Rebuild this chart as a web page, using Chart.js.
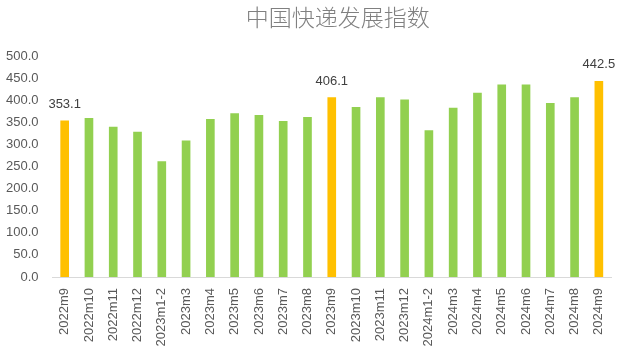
<!DOCTYPE html>
<html>
<head>
<meta charset="utf-8">
<script src="https://cdn.jsdelivr.net/npm/chart.js@4"></script>
<style>
  html, body { margin: 0; padding: 0; background: #fff; }
  #wrap { width: 618px; height: 351px; }
</style>
</head>
<body>
<div id="wrap"><canvas id="chart" width="618" height="351"></canvas></div>
<script>
const months = ['2022m9', '2022m10', '2022m11', '2022m12', '2023m1-2', '2023m3', '2023m4', '2023m5', '2023m6', '2023m7', '2023m8', '2023m9', '2023m10', '2023m11', '2023m12', '2024m1-2', '2024m3', '2024m4', '2024m5', '2024m6', '2024m7', '2024m8', '2024m9'];
const indexValues = [353.1, 359, 339, 328, 261, 308, 357, 370, 366, 352, 361, 406.1, 384, 406, 401, 331, 382, 416, 435, 435, 393, 406, 442.5];
// the september bars are yellow and carry a label
const highlighted = ['2022m9', '2023m9', '2024m9'];
const chartTitle = '中国快递发展指数';

const green = '#92D050';
const yellow = '#FFC000';

const barColors = months.map(m => highlighted.includes(m) ? yellow : green);

// labels over the yellow bars, and the title centred over the plot area
const extras = {
  id: 'extras',
  afterDatasetsDraw(chart) {
    const ctx = chart.ctx;
    const meta = chart.getDatasetMeta(0);
    const area = chart.chartArea;
    ctx.save();
    ctx.font = '13px "Liberation Sans", Arial, sans-serif';
    ctx.fillStyle = '#404040';
    ctx.textAlign = 'center';
    ctx.textBaseline = 'bottom';
    meta.data.forEach((bar, i) => {
      if (highlighted.includes(months[i])){
        ctx.fillText(indexValues[i].toFixed(1), bar.x, bar.y - 10);
      }
    });

    ctx.font = '300 23px "Noto Sans CJK SC", sans-serif';
    ctx.fillStyle = '#808080';
    ctx.textBaseline = 'middle';
    ctx.fillText(chartTitle, (area.left + area.right) / 2 + 6, 17);
    ctx.restore();
  }
};

new Chart(document.getElementById('chart'), {
  type: 'bar',
  data: {
    labels: months,
    datasets: [{
      data: indexValues,
      backgroundColor: barColors,
      barThickness: 8
    }]
  },
  options: {
    responsive: false,
    animation: false,
    layout: { padding: { left: 0, right: 7, top: 56, bottom: 2 } },
    plugins: {
      legend: { display: false },
      tooltip: { enabled: false },
      title: { display: false }
    },
    scales: {
      x: {
        grid: { display: false },
        border: { color: '#D9D9D9' },
        afterFit(scale) { scale.height = 72; },
        ticks: {
          color: '#595959',
          font: { family: '"Liberation Sans", Arial, sans-serif', size: 13 },
          minRotation: 90,
          maxRotation: 90,
          autoSkip: false,
          padding: 3
        }
      },
      y: {
        min: 0,
        max: 500,
        grid: { display: false },
        border: { display: false },
        ticks: {
          stepSize: 50,
          color: '#595959',
          font: { family: '"Liberation Sans", Arial, sans-serif', size: 13 },
          padding: 6,
          callback: v => v.toFixed(1)
        }
      }
    }
  },
  plugins: [extras]
});
</script>
</body>
</html>
